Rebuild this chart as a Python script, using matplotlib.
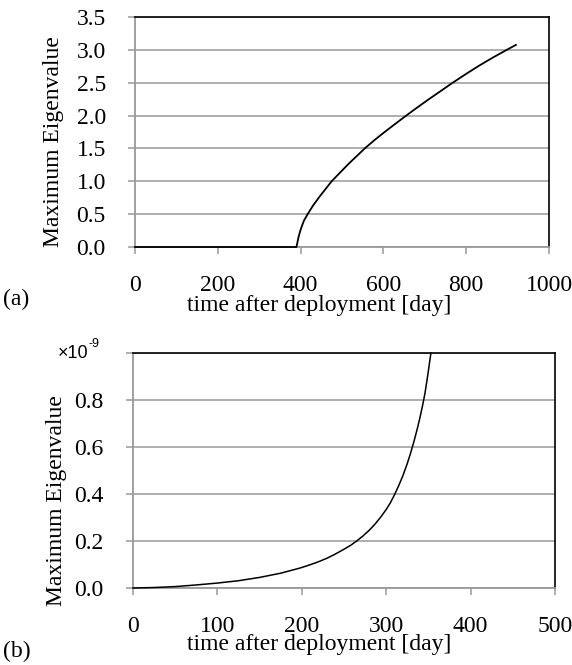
import matplotlib
matplotlib.use('Agg')
import matplotlib.pyplot as plt

# (a) maximum eigenvalue, full period
days_a = [0, 100, 200, 300, 390, 392, 395, 398, 402, 408, 417, 430, 445, 460,
          475, 495, 515, 535, 555, 580, 605, 630, 652, 680, 710, 740, 765, 800,
          830, 865, 898, 920]
vals_a = [0, 0, 0, 0, 0, 0.06, 0.15, 0.22, 0.30, 0.40, 0.50, 0.63, 0.76, 0.88,
          1.00, 1.13, 1.26, 1.38, 1.50, 1.635, 1.76, 1.88, 1.985, 2.115, 2.25,
          2.38, 2.49, 2.635, 2.755, 2.885, 3.00, 3.075]
xticks_a = [0, 200, 400, 600, 800, 1000]
yticks_a = [0.0, 0.5, 1.0, 1.5, 2.0, 2.5, 3.0, 3.5]

# (b) early period, values in units of 1e-9
days_b = [0, 25, 50, 75, 100, 125, 150, 175, 198, 210, 220, 230, 240, 250, 258,
          265, 272, 280, 287, 294, 300, 305, 310, 315, 320, 325, 329, 333, 337,
          340, 343, 346, 349, 351, 353]
vals_b = [0, 0.002, 0.006, 0.013, 0.021, 0.031, 0.045, 0.063, 0.085, 0.099,
          0.112, 0.127, 0.145, 0.165, 0.182, 0.200, 0.220, 0.246, 0.273, 0.304,
          0.334, 0.363, 0.398, 0.437, 0.48, 0.53, 0.575, 0.625, 0.68, 0.725,
          0.775, 0.83, 0.90, 0.95, 1.0]
xticks_b = [0, 100, 200, 300, 400, 500]
yticks_b = [0.0, 0.2, 0.4, 0.6, 0.8]

plt.rcParams['font.family'] = ['Liberation Serif', 'DejaVu Serif']
FS = 17
GRID = '#999999'

W, H = 572, 665
fig = plt.figure(figsize=(W / 100, H / 100), dpi=100)


def make_axes(left, top, right, bottom):
    return fig.add_axes([left / W, 1 - bottom / H, (right - left) / W, (bottom - top) / H])


def style(ax):
    ax.grid(axis='y', color=GRID, lw=1.1)
    ax.set_axisbelow(True)
    for s in ['left', 'bottom']:
        ax.spines[s].set_color(GRID)
        ax.spines[s].set_linewidth(1.3)
    for s in ['top', 'right']:
        ax.spines[s].set_color('black')
        ax.spines[s].set_linewidth(1.2)
    ax.tick_params(axis='both', length=5, width=1.1, color=GRID, labelsize=FS, pad=16)
    ax.tick_params(axis='x', pad=15)


# panel (a)
ax1 = make_axes(135, 17, 549, 247)
ax1.plot(days_a, vals_a, color='black', lw=1.3, clip_on=False, zorder=3)
ax1.set_xlim(0, 1000)
ax1.set_ylim(0, 3.5)
ax1.set_xticks(xticks_a)
ax1.set_yticks(yticks_a)
ax1.set_yticklabels([f'{v:.1f}' for v in yticks_a])
style(ax1)
ax1.set_xlabel('time after deployment [day]', fontsize=FS, va='top')
ax1.xaxis.set_label_coords(0.444, -0.208)
ax1.set_ylabel('Maximum Eigenvalue', fontsize=FS, va='center')
ax1.yaxis.set_label_coords(-0.196, 0.46)
fig.text(3 / W, 1 - 299 / H, '(a)', fontsize=FS, va='center', ha='left')

# panel (b)
ax2 = make_axes(133, 353, 555, 588)
ax2.plot(days_b, vals_b, color='black', lw=1.1, clip_on=False, zorder=3)
ax2.set_xlim(0, 500)
ax2.set_ylim(0, 1.0)
ax2.set_xticks(xticks_b)
ax2.set_yticks(yticks_b + [1.0])
ax2.set_yticklabels([f'{v:.1f}' for v in yticks_b] + [''])
style(ax2)
ax2.set_xlabel('time after deployment [day]', fontsize=FS, va='top')
ax2.xaxis.set_label_coords(0.441, -0.196)
ax2.set_ylabel('Maximum Eigenvalue', fontsize=FS, va='center')
ax2.yaxis.set_label_coords(-0.182, 0.37)
# multiplier in place of the top tick label
sans = ['Liberation Sans', 'DejaVu Sans']
ax2.text(-0.1066, 1.0, '×10', transform=ax2.transAxes, ha='right', va='center',
         fontsize=13, family=sans)
ax2.text(-0.1066, 1.012, '-9', transform=ax2.transAxes, ha='left', va='bottom',
         fontsize=9, family=sans)
fig.text(3 / W, 1 - 651 / H, '(b)', fontsize=FS, va='center', ha='left')

fig.savefig('out.png', dpi=100)
